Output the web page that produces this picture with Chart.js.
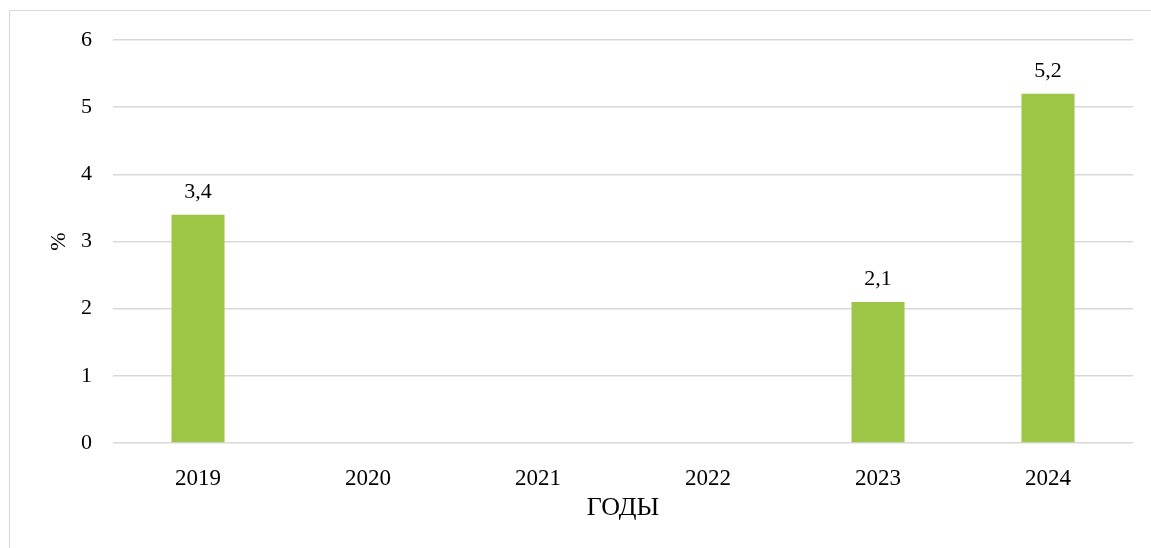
<!DOCTYPE html>
<html>
<head>
<meta charset="utf-8">
<script src="https://cdn.jsdelivr.net/npm/chart.js@4/dist/chart.umd.min.js"></script>
<style>
    html, body { margin: 0; padding: 0; background: #ffffff; overflow: hidden; }
    #wrap { position: relative; width: 1151px; height: 548px; }
    #frame { position: absolute; left: 9px; top: 10px; width: 1200px; height: 600px; border: 1px solid #d9d9d9; box-sizing: border-box; }
    #myChart { position: absolute; left: 0; top: 0; }
</style>
</head>
<body>
<div id="wrap">
    <div id="frame"></div>
    <canvas id="myChart" width="1151" height="548"></canvas>
</div>
<script>
const years = ['2019', '2020', '2021', '2022', '2023', '2024'];
const percents = [3.4, null, null, null, 2.1, 5.2];
const yTicks = [0, 1, 2, 3, 4, 5, 6];

const serif = '"Liberation Serif", "Times New Roman", serif';
Chart.defaults.font.family = serif;
Chart.defaults.color = '#000000';

// подписи значений над столбиками
const barValues = {
    id: 'barValues',
    afterDatasetsDraw(chart) {
        const ctx = chart.ctx;
        const meta = chart.getDatasetMeta(0);
        ctx.save();
        ctx.font = '22px ' + serif;
        ctx.fillStyle = '#000000';
        ctx.textAlign = 'center';
        ctx.textBaseline = 'alphabetic';
        meta.data.forEach(function (bar, i) {
            const v = percents[i];
            if (v === null) return;
            ctx.fillText(v.toFixed(1).replace('.', ','), bar.x, bar.y - 17);
        });
        ctx.restore();
    }
};

const data = {
    labels: years,
    datasets: [{
        data: percents,
        backgroundColor: '#9dc546',
        borderWidth: 0,
        categoryPercentage: 1,
        barPercentage: 0.312
    }]
};

const config = {
    type: 'bar',
    data: data,
    plugins: [barValues],
    options: {
        responsive: false,
        animation: false,
        layout: { padding: { left: 10, right: 18, top: 40, bottom: 0 } },
        plugins: {
            legend: { display: false },
            tooltip: { enabled: false }
        },
        scales: {
            x: {
                grid: { display: false },
                border: { display: false },
                ticks: { font: { size: 23 }, padding: 14, color: '#000000' },
                title: {
                    display: true,
                    text: 'ГОДЫ',
                    font: { size: 26 },
                    color: '#000000',
                    padding: { top: 0, bottom: 24 }
                },
                afterFit: function (scale) { scale.height = 105; }
            },
            y: {
                min: 0,
                max: 6,
                afterBuildTicks: function (scale) {
                    scale.ticks = yTicks.map(function (v) { return { value: v }; });
                },
                grid: { color: '#d9d9d9', lineWidth: 1.5, drawTicks: false },
                border: { display: false },
                ticks: { font: { size: 22 }, padding: 21, color: '#000000' },
                title: {
                    display: true,
                    text: '%',
                    font: { size: 22 },
                    color: '#000000',
                    padding: { top: 36, bottom: 0 }
                },
                afterFit: function (scale) { scale.width = 103; }
            }
        }
    }
};

const myChart = new Chart(document.getElementById('myChart').getContext('2d'), config);
</script>
</body>
</html>
